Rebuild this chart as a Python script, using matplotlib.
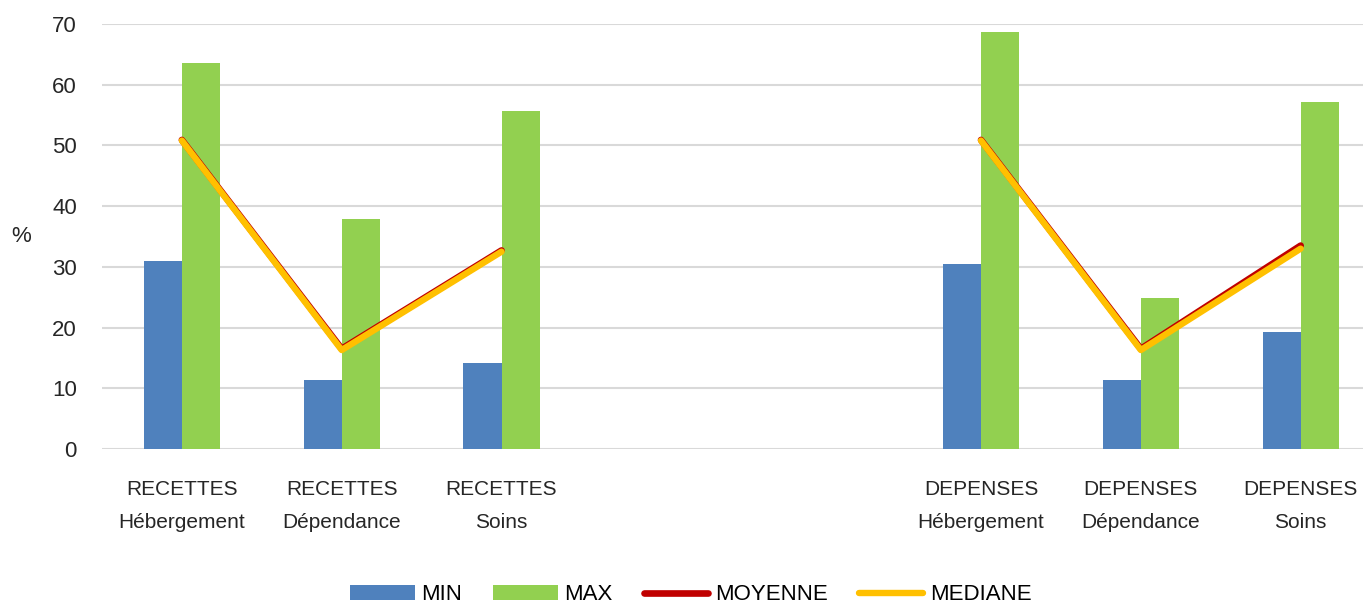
import matplotlib.pyplot as plt
import numpy as np

categories = ["RECETTES\nHébergement", "RECETTES\nDépendance", "RECETTES\nSoins", "", "",
              "DEPENSES\nHébergement", "DEPENSES\nDépendance", "DEPENSES\nSoins"]
v_min = [31.0, 11.4, 14.2, np.nan, np.nan, 30.5, 11.4, 19.3]
v_max = [63.6, 37.9, 55.7, np.nan, np.nan, 68.7, 24.9, 57.1]
v_moy = [50.9, 16.5, 32.7, np.nan, np.nan, 50.9, 16.5, 33.5]
v_med = [50.8, 16.3, 32.5, np.nan, np.nan, 50.8, 16.3, 33.0]

plt.rcParams['font.family'] = ['Liberation Sans', 'DejaVu Sans']

fig = plt.figure(figsize=(13.63, 6.07), dpi=100)
ax = fig.add_axes([0.0748, 0.2603, 0.9252, 0.7002])

x = np.arange(len(categories))
w = 0.238
b1 = ax.bar(x - w / 2, v_min, w, color="#4F81BD", label="MIN", zorder=2)
b2 = ax.bar(x + w / 2, v_max, w, color="#92D050", label="MAX", zorder=2)
l1, = ax.plot(x, v_moy, color="#C00000", lw=4.8, solid_capstyle='round', label="MOYENNE", zorder=3)
l2, = ax.plot(x, v_med, color="#FFC000", lw=4.6, solid_capstyle='round', label="MEDIANE", zorder=4)

ax.set_xlim(-0.5, 7.39)
ax.set_ylim(0, 70)
ax.set_yticks(range(0, 71, 10))
ax.set_xticks(x)
ax.set_xticklabels(categories, fontsize=15, color="#262626", linespacing=1.95)
ax.tick_params(axis='x', length=0, pad=22)
ax.tick_params(axis='y', length=0, pad=18, labelsize=16, labelcolor="#262626")
ax.yaxis.grid(True, color="#D9D9D9", lw=1.5, zorder=0)
ax.set_axisbelow(True)
for s in ax.spines.values():
    s.set_visible(False)
ax.set_ylabel("%", rotation=0, fontsize=16, color="#262626", labelpad=22, va='center')

fig.legend([b1, b2, l1, l2], ["MIN", "MAX", "MOYENNE", "MEDIANE"],
           loc='center', bbox_to_anchor=(0.507, 0.02), ncol=4, frameon=False,
           fontsize=16, handlelength=2.9, handletextpad=0.3, columnspacing=1.4,
           handleheight=0.7)
fig.savefig("out.png", dpi=100)
